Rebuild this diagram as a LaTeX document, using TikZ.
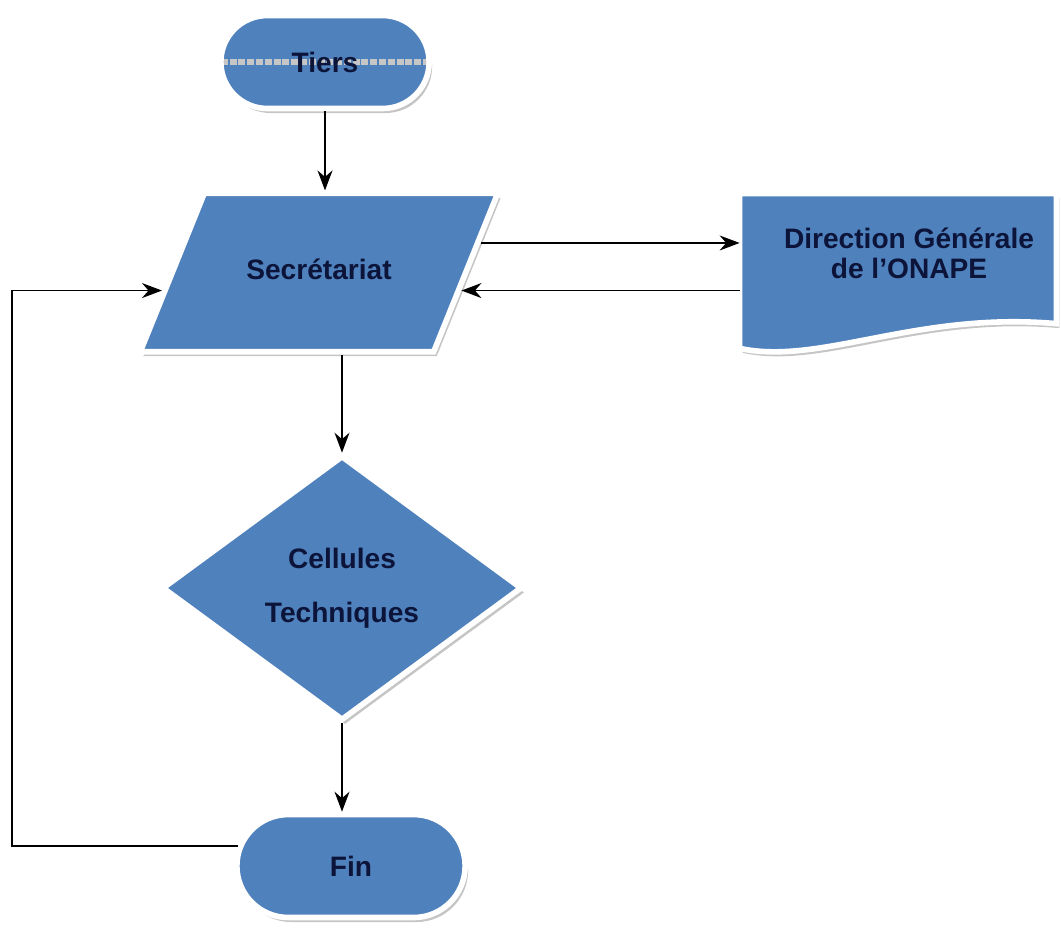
\documentclass[tikz,border=0pt]{standalone}
\usepackage{fontspec}
\setmainfont{Liberation Sans}
\usetikzlibrary{arrows.meta,shapes.geometric,shapes.misc,positioning,shadows,calc}
\definecolor{ofblue}{RGB}{79,129,189}
\definecolor{oftext}{RGB}{12,20,58}
\tikzstyle{arrow} = [thick,-{Stealth[length=4mm,width=3mm]}]
\tikzstyle{flowbase} = [fill=ofblue, draw=white, line width=3.2pt, drop shadow={shadow xshift=0.6mm,shadow yshift=-0.9mm,fill=black!45}, text=oftext, font=\bfseries\fontsize{16}{19}\selectfont]
\tikzstyle{termbox} = [flowbase, rounded rectangle, minimum width=4.4cm, minimum height=1.86cm]
\tikzstyle{iobox} = [flowbase, trapezium, trapezium left angle=68, trapezium right angle=112, text height=11.5pt, text depth=3pt, inner xsep=0.84cm, inner ysep=1.33cm]
\tikzstyle{decbox} = [flowbase, diamond, minimum width=7.2cm, minimum height=5.3cm, align=center]
\begin{document}
\begin{tikzpicture}
\useasboundingbox (0,0) rectangle (21.22,-18.76);
% Start
\node[termbox, path picture={\draw[gray!45!white, line width=3.5pt, dash pattern=on 4pt off 1pt] (path picture bounding box.west) -- (path picture bounding box.east);}] (tiers) at (6.5,-1.24) {Tiers};
% Secretariat
\node[iobox] (sec) at (6.38,-5.45) {Secrétariat};
% Direction (document)
\node[minimum width=6.32cm, minimum height=3.08cm] (dirbox) at (17.96,-5.42) {};
\path[flowbase] (dirbox.north west) -- (dirbox.north east) -- ($(dirbox.north east)+(0,-2.6)$)
  .. controls +(-2.8,0.25) and +(1.6,-0.35) .. (dirbox.south west) -- cycle;
\node[text=oftext, font=\bfseries\fontsize{16}{19}\selectfont, align=center] (dirlabel) at (18.18,-5.07) {Direction Générale\\[-2pt]de l'ONAPE};
% Cellules
\node[decbox] (cell) at (6.84,-11.76) {Cellules\\[12pt]Techniques};
% End
\node[termbox, minimum width=4.8cm, minimum height=2.06cm] (fin) at (7.02,-17.32) {Fin};

\coordinate (secout) at ($(sec.top right corner)!0.32!(sec.bottom right corner)$);
\coordinate (secback) at ($(sec.top right corner)!0.61!(sec.bottom right corner)$);
\coordinate (secin) at ($(sec.top left corner)!0.61!(sec.bottom left corner)$);
\coordinate (loopx) at (0.24,0);

\draw[arrow] (tiers.south) -- (tiers.south |- sec.north);
\draw[arrow] (secout) -- (secout -| dirbox.west);
\draw[arrow] (secback -| dirbox.west) -- (secback);
\draw[arrow] (cell.north |- sec.south) -- (cell.north);
\draw[arrow] (cell.south) -- (cell.south |- fin.north);
\draw[arrow] (fin.170) -- (fin.170 -| loopx) |- (secin);
\end{tikzpicture}
\end{document}
